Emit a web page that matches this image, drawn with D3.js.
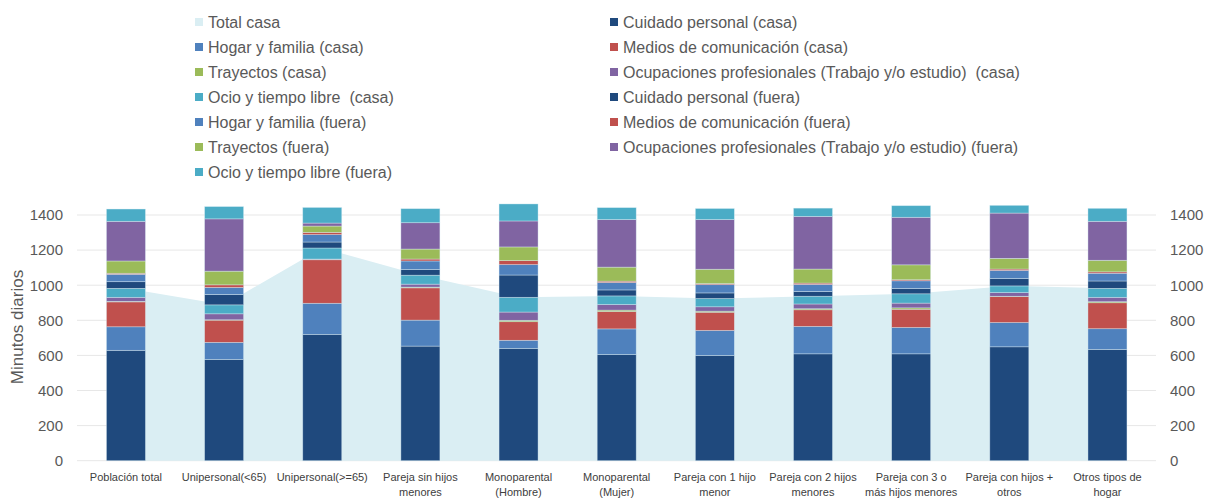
<!DOCTYPE html>
<html>
<head>
<meta charset="utf-8">
<script src="https://cdn.jsdelivr.net/npm/d3@7"></script>
<style>
  html, body { margin: 0; padding: 0; background: #ffffff; }
  svg { display: block; font-family: "Liberation Sans", Arial, sans-serif; }
  text { white-space: pre; }
</style>
</head>
<body>
<svg id="chart" width="1211" height="499"></svg>
<script>
// ---- Data ----
const categories = [
  "Población total", "Unipersonal(<65)", "Unipersonal(>=65)", "Pareja sin hijos\nmenores",
  "Monoparental\n(Hombre)", "Monoparental\n(Mujer)", "Pareja con 1 hijo\nmenor",
  "Pareja con 2 hijos\nmenores", "Pareja con 3 o\nmás hijos menores", "Pareja con hijos +\notros",
  "Otros tipos de\nhogar"
];
const totalCasa      = [982, 888, 1212, 1057, 931, 939, 924, 937, 951, 996, 982];
const cuidadoCasa    = [629, 577, 720, 653, 640, 605, 600, 609, 609, 649, 634];
const hogarCasa      = [134, 97, 177, 148, 46, 146, 142, 156, 150, 138, 118];
const mediosCasa     = [142, 127, 248, 184, 106, 99, 104, 95, 104, 148, 148];
const trayectosCasa  = [3, 2, 2, 4, 8, 8, 6, 6, 8, 2, 6];
const ocupCasa       = [23, 34, 2, 17, 47, 32, 25, 27, 27, 21, 25];
const ocioCasa       = [51, 51, 63, 51, 84, 49, 47, 44, 53, 38, 51];
const cuidadoFuera   = [38, 59, 34, 32, 127, 34, 32, 27, 30, 42, 42];
const hogarFuera     = [42, 40, 42, 49, 59, 42, 47, 40, 44, 46, 44];
const mediosFuera    = [6, 15, 13, 11, 23, 8, 6, 8, 6, 8, 8];
const trayectosFuera = [70, 78, 36, 57, 78, 80, 82, 80, 85, 61, 66];
const ocupFuera      = [226, 298, 17, 150, 148, 271, 283, 300, 271, 258, 222];
const ocioFuera      = [70, 70, 89, 80, 97, 68, 63, 47, 66, 44, 74];
const yTicks = [0, 200, 400, 600, 800, 1000, 1200, 1400];

const seriesNames = [
  "Cuidado personal (casa)", "Hogar y familia (casa)", "Medios de comunicación (casa)",
  "Trayectos (casa)", "Ocupaciones profesionales (Trabajo y/o estudio)  (casa)", "Ocio y tiempo libre  (casa)",
  "Cuidado personal (fuera)", "Hogar y familia (fuera)", "Medios de comunicación (fuera)",
  "Trayectos (fuera)", "Ocupaciones profesionales (Trabajo y/o estudio) (fuera)", "Ocio y tiempo libre (fuera)"
];
const seriesValues = [cuidadoCasa, hogarCasa, mediosCasa, trayectosCasa, ocupCasa, ocioCasa,
  cuidadoFuera, hogarFuera, mediosFuera, trayectosFuera, ocupFuera, ocioFuera];
const palette = ["#1f497d", "#4f81bd", "#c0504d", "#9bbb59", "#8064a2", "#4bacc6"];
const seriesColors = palette.concat(palette);
const areaColor = "#daeef3";

// ---- Build table ----
const rows = categories.map((c, i) => {
  const r = { cat: c, total: totalCasa[i] };
  seriesNames.forEach((s, j) => { r[s] = seriesValues[j][i]; });
  return r;
});

const svg = d3.select("#chart");
const x = d3.scaleBand().domain(categories).range([77, 1156.4]).paddingInner(0.6027).paddingOuter(0.3);
const y = d3.scaleLinear().domain([0, 1400]).range([460.7, 215]);

// grid
svg.append("g").selectAll("line").data(yTicks).join("line")
  .attr("x1", 77).attr("x2", 1156)
  .attr("y1", d => y(d)).attr("y2", d => y(d))
  .attr("stroke", "#e7e7e7").attr("stroke-width", 1);

// area (Total casa)
const area = d3.area()
  .x(d => x(d.cat) + x.bandwidth() / 2)
  .y0(y(0)).y1(d => y(d.total));
svg.append("path").datum(rows).attr("d", area).attr("fill", areaColor);

// stacked bars
const stack = d3.stack().keys(seriesNames)(rows);
svg.append("g").selectAll("g").data(stack).join("g")
  .attr("fill", (d, i) => seriesColors[i])
  .selectAll("rect").data(d => d).join("rect")
  .attr("x", d => x(d.data.cat))
  .attr("width", x.bandwidth())
  .attr("y", d => y(d[1]))
  .attr("height", d => y(d[0]) - y(d[1]))
  .attr("stroke", "rgba(220,238,246,0.55)")
  .attr("stroke-width", 0.7);

// axes
const tickColor = "#595959";
const fmt = d3.format("d");
const leftAxis = d3.axisLeft(y).tickValues(yTicks).tickFormat(fmt).tickSize(0).tickPadding(0);
const gl = svg.append("g").attr("transform", "translate(63,0)").call(leftAxis);
gl.select(".domain").remove();
gl.selectAll("text").attr("fill", tickColor).attr("font-size", "15px")
  .attr("font-family", "'Liberation Sans', Arial, sans-serif");

const rightAxis = d3.axisRight(y).tickValues(yTicks).tickFormat(fmt).tickSize(0).tickPadding(0);
const gr = svg.append("g").attr("transform", "translate(1170,0)").call(rightAxis);
gr.select(".domain").remove();
gr.selectAll("text").attr("fill", tickColor).attr("font-size", "15px")
  .attr("font-family", "'Liberation Sans', Arial, sans-serif");

// y title
svg.append("text")
  .attr("transform", "translate(23,327) rotate(-90)")
  .attr("text-anchor", "middle")
  .attr("fill", tickColor).attr("font-size", "17px")
  .text("Minutos diarios");

// category labels
const catG = svg.append("g");
categories.forEach(c => {
  const t = catG.append("text")
    .attr("x", x(c) + x.bandwidth() / 2)
    .attr("y", 481)
    .attr("text-anchor", "middle")
    .attr("fill", "#404040").attr("font-size", "11px");
  c.split("\n").forEach((line, k) => {
    t.append("tspan").attr("x", x(c) + x.bandwidth() / 2).attr("dy", k === 0 ? 0 : 15).text(line);
  });
});

// legend
const legendItems = [{ name: "Total casa", color: areaColor }]
  .concat(seriesNames.map((s, i) => ({ name: s, color: seriesColors[i] })));
const lg = svg.append("g");
legendItems.forEach((it, i) => {
  const col = i % 2, row = Math.floor(i / 2);
  const sx = col === 0 ? 195 : 610;
  const cy = 22 + row * 25;
  lg.append("rect").attr("x", sx).attr("y", cy - 4).attr("width", 8).attr("height", 8).attr("fill", it.color);
  lg.append("text").attr("x", sx + 13).attr("y", cy + 6)
    .attr("fill", tickColor).attr("font-size", "16px").text(it.name);
});
</script>
</body>
</html>
